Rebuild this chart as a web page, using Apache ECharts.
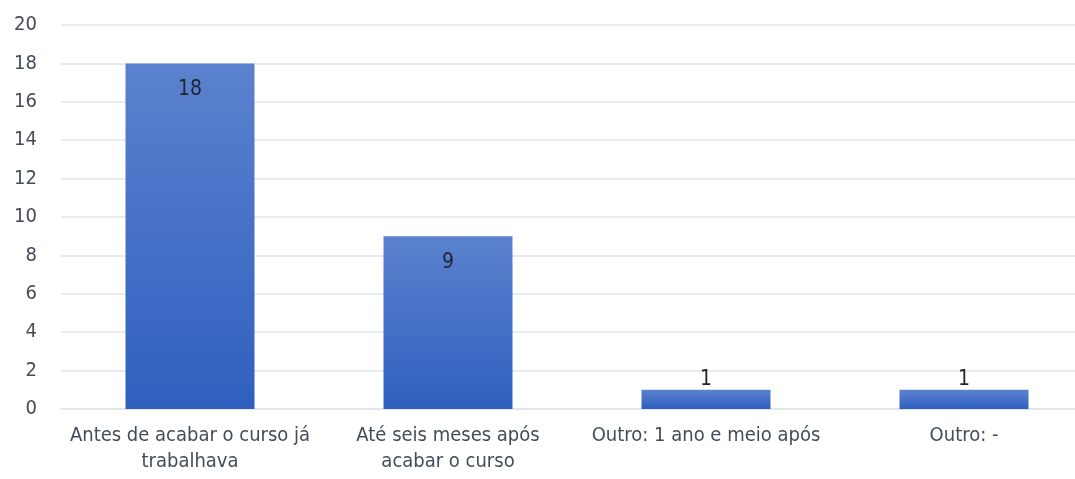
<!DOCTYPE html>
<html>
<head>
<meta charset="utf-8">
<script src="https://cdn.jsdelivr.net/npm/echarts@6/dist/echarts.min.js"></script>
<style>
html,body{margin:0;padding:0;background:#fff;overflow:hidden;width:1075px;height:479px;}
#chart{width:1093px;height:479px;}
</style>
</head>
<body>
<div id="chart"></div>
<script>
const categories = [
  "Antes de acabar o curso já\ntrabalhava",
  "Até seis meses após\nacabar o curso",
  "Outro: 1 ano e meio após",
  "Outro: -"
];
const values = [18, 9, 1, 1];
const yTicks = [0, 2, 4, 6, 8, 10, 12, 14, 16, 18, 20];

const FONT = '"Liberation Sans Narrow", "DejaVu Sans Condensed", "Noto Sans", sans-serif';
const chart = echarts.init(document.getElementById('chart'));

const grad = new echarts.graphic.LinearGradient(0, 0, 0, 1, [
  {offset: 0, color: '#5b82ce'},
  {offset: 1, color: '#2f5fbf'}
]);

chart.setOption({
  animation: false,
  grid: {left: 61, top: 25, bottom: 70, right: 0},
  xAxis: {
    type: 'category',
    data: categories,
    axisTick: {show: false},
    axisLine: {show: true, lineStyle: {color: '#dfe3e9', width: 1.5}},
    axisLabel: {
      interval: 0, margin: 14, fontSize: 20, color: '#444c58',
      fontFamily: FONT, lineHeight: 26
    }
  },
  yAxis: {
    type: 'value',
    min: yTicks[0], max: yTicks[yTicks.length - 1], interval: 2,
    axisLine: {show: false}, axisTick: {show: false},
    splitLine: {lineStyle: {color: '#e1e5eb', width: 1.5}},
    axisLabel: {margin: 24, fontSize: 20, color: '#444c58', fontFamily: FONT}
  },
  series: [{
    type: 'bar',
    barWidth: 129,
    data: values.map(v => ({
      value: v,
      label: v >= 5
        ? {show: true, position: 'insideTop', distance: 16}
        : {show: true, position: 'top', distance: 0}
    })),
    itemStyle: {color: grad},
    label: {fontSize: 21, color: '#1f2430', fontFamily: FONT}
  }]
});
</script>
</body>
</html>
